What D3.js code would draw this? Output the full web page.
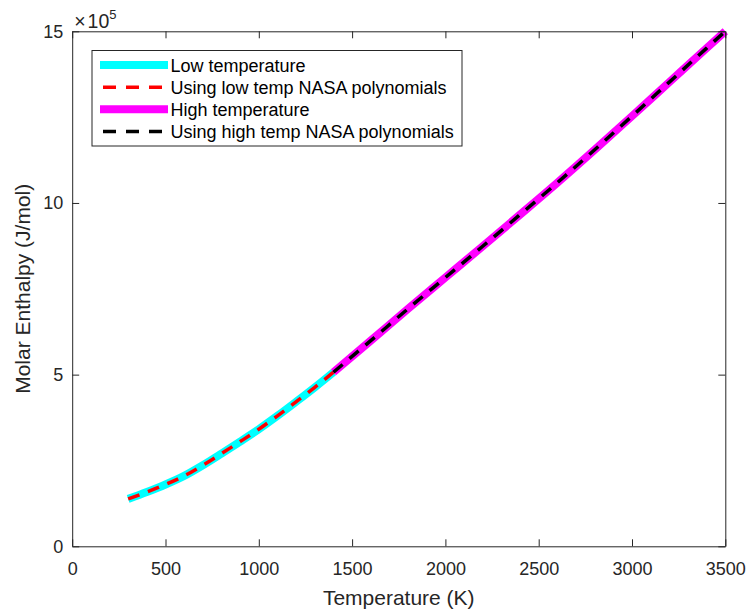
<!DOCTYPE html>
<html>
<head>
<meta charset="utf-8">
<script src="https://cdn.jsdelivr.net/npm/d3@7"></script>
<style>
  html, body { margin: 0; padding: 0; background: #fff; }
  svg { display: block; font-family: "Liberation Sans", Arial, Helvetica, sans-serif; }
</style>
</head>
<body>
<svg id="chart" width="751" height="612"></svg>
<script>
// Temperatures (K) and molar enthalpy (J/mol)
const tempLow = [300, 400, 500, 600, 700, 800, 900, 1000, 1100, 1200, 1300, 1400];
const hLow = [1.38e5, 1.58e5, 1.80e5, 2.05e5, 2.36e5, 2.70e5, 3.05e5, 3.41e5, 3.80e5, 4.21e5, 4.63e5, 5.07e5];
const hLowNasa = [1.38e5, 1.58e5, 1.80e5, 2.05e5, 2.36e5, 2.70e5, 3.05e5, 3.41e5, 3.80e5, 4.21e5, 4.63e5, 5.07e5];

const tempHigh = [1400, 1600, 1800, 2000, 2200, 2400, 2600, 2800, 3000, 3200, 3400, 3500];
const hHigh = [5.07e5, 5.99e5, 6.92e5, 7.83e5, 8.74e5, 9.66e5, 10.59e5, 11.55e5, 12.53e5, 13.52e5, 14.51e5, 15.0e5];
const hHighNasa = [5.07e5, 5.99e5, 6.92e5, 7.83e5, 8.74e5, 9.66e5, 10.59e5, 11.55e5, 12.53e5, 13.52e5, 14.51e5, 15.0e5];

const xTickValues = [0, 500, 1000, 1500, 2000, 2500, 3000, 3500];
const yTickValues = [0, 5e5, 10e5, 15e5];
const yTickLabels = ["0", "5", "10", "15"];

const seriesNames = ["Low temperature", "Using low temp NASA polynomials", "High temperature", "Using high temp NASA polynomials"];

const svg = d3.select("#chart");
const axisColor = "#262626";

const plot = { left: 72.2, right: 725.3, top: 31.3, bottom: 546.3 };

const x = d3.scaleLinear().domain([0, 3500]).range([plot.left, plot.right]);
const y = d3.scaleLinear().domain([0, 15e5]).range([plot.bottom, plot.top]);

// Series styling
const styles = [
  { color: "#00ffff", width: 8, dash: null },
  { color: "#ff0000", width: 3.5, dash: "12,9" },
  { color: "#ff00ff", width: 8, dash: null },
  { color: "#000000", width: 3.5, dash: "12,9" }
];

const series = [
  { t: tempLow, h: hLow },
  { t: tempLow, h: hLowNasa },
  { t: tempHigh, h: hHigh },
  { t: tempHigh, h: hHighNasa }
];

const line = d3.line()
  .x(d => x(d[0]))
  .y(d => y(d[1]))
  .curve(d3.curveMonotoneX);

const lines = svg.append("g");
series.forEach((s, i) => {
  const pts = s.t.map((t, k) => [t, s.h[k]]);
  lines.append("path")
    .datum(pts)
    .attr("d", line)
    .attr("fill", "none")
    .attr("stroke", styles[i].color)
    .attr("stroke-width", styles[i].width)
    .attr("stroke-dasharray", styles[i].dash)
    .attr("stroke-linecap", "butt")
    .attr("stroke-linejoin", "round");
});

// Axes (ticks pointing inward, box on)
const tickLen = 7;
function styleAxis(g) {
  g.select(".domain").attr("stroke", axisColor).attr("stroke-width", 1);
  g.selectAll(".tick line").attr("stroke", axisColor).attr("stroke-width", 1);
  g.selectAll(".tick text").attr("fill", axisColor).attr("font-size", 18);
  g.attr("font-family", null);
}

svg.append("g")
  .attr("transform", `translate(0,${plot.bottom})`)
  .call(d3.axisBottom(x).tickValues(xTickValues).tickFormat(d3.format("d"))
    .tickSizeInner(-tickLen).tickSizeOuter(0).tickPadding(16))
  .call(styleAxis);

svg.append("g")
  .attr("transform", `translate(0,${plot.top})`)
  .call(d3.axisTop(x).tickValues(xTickValues).tickFormat("")
    .tickSizeInner(-tickLen).tickSizeOuter(0))
  .call(styleAxis);

svg.append("g")
  .attr("transform", `translate(${plot.left},0)`)
  .call(d3.axisLeft(y).tickValues(yTickValues).tickFormat((d, i) => yTickLabels[i])
    .tickSizeInner(-tickLen).tickSizeOuter(0).tickPadding(9))
  .call(styleAxis);

svg.append("g")
  .attr("transform", `translate(${plot.right},0)`)
  .call(d3.axisRight(y).tickValues(yTickValues).tickFormat("")
    .tickSizeInner(-tickLen).tickSizeOuter(0))
  .call(styleAxis);

// Exponent marker
const expo = svg.append("text")
  .attr("x", plot.left + 2)
  .attr("y", 28.3)
  .attr("fill", axisColor)
  .attr("font-size", 19.5);
expo.append("tspan").text("\u00d7");
expo.append("tspan").attr("dx", 2).text("10");
expo.append("tspan").attr("font-size", 13).attr("dy", -9).text("5");

// Axis titles
svg.append("text")
  .attr("x", (plot.left + plot.right) / 2)
  .attr("y", 604.5)
  .attr("text-anchor", "middle")
  .attr("fill", axisColor)
  .attr("font-size", 21)
  .text("Temperature (K)");

svg.append("text")
  .attr("transform", `translate(30,${(plot.top + plot.bottom) / 2}) rotate(-90)`)
  .attr("text-anchor", "middle")
  .attr("fill", axisColor)
  .attr("font-size", 21)
  .text("Molar Enthalpy (J/mol)");

// Legend
const legend = svg.append("g");
legend.append("rect")
  .attr("x", 92).attr("y", 50.5)
  .attr("width", 370).attr("height", 95.5)
  .attr("fill", "#fff")
  .attr("stroke", axisColor)
  .attr("stroke-width", 1);

const rowY = d3.scalePoint().domain(d3.range(seriesNames.length)).range([65, 131.5]);
seriesNames.forEach((name, i) => {
  const yy = rowY(i);
  legend.append("line")
    .attr("x1", 100).attr("x2", 168)
    .attr("y1", yy).attr("y2", yy)
    .attr("stroke", styles[i].color)
    .attr("stroke-width", styles[i].width)
    .attr("stroke-dasharray", styles[i].dash ? "13,10" : null)
    .attr("stroke-dashoffset", styles[i].dash ? -3 : null);
  legend.append("text")
    .attr("x", 170.5).attr("y", yy + 6.5)
    .attr("fill", "#000")
    .attr("font-size", 18)
    .text(name);
});
</script>
</body>
</html>
